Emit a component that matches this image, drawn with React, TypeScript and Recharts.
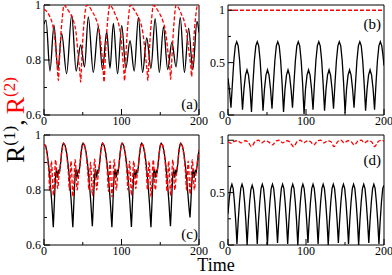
import React from 'react';
import { LineChart, Line, XAxis, YAxis, ReferenceArea } from 'recharts';

const FONT = '"Liberation Serif", "Times New Roman", serif';

// ---------- data ----------
const xTicks = [0, 50, 100, 150, 200];
const xLabels = [0, 100, 200];
const yTicksHigh = [0.6, 0.7, 0.8, 0.9, 1];
const yLabelsHigh = [0.6, 0.8, 1];
const yTicksLow = [0, 0.25, 0.5, 0.75, 1];
const yLabelsLow = [0, 0.5, 1];

type P = [number, number];

const aBlack: P[] = [[0,.93],[2.6,.945],[7.7,.76],[12.9,.927],[17.9,.765],[22.8,.897],[29.2,.75],[35.7,.964],[41.5,.76],[47.3,.855],[52.3,.775],[57.2,.957],[63.6,.755],[70.1,.921],[75.5,.765],[80.9,.903],[85.2,.77],[89.5,.933],[94.9,.75],[100.3,.925],[105.6,.77],[111,.87],[116.4,.76],[121.8,.955],[127.2,.755],[132.6,.88],[138,.77],[143.4,.95],[148.8,.755],[154.2,.92],[159.6,.765],[165,.865],[170.4,.775],[175.8,.955],[181.2,.755],[186.6,.915],[192,.765],[197.4,.94],[200,.9]];

const aRed: P[] = [[0,.985],[4,.975],[8,.955],[11,.93],[13.5,.89],[15.5,.83],[17.5,.76],[18.5,.725],[19.5,.77],[21,.86],[23.5,.95],[25.8,1.0],
[29,.99],[33.5,.97],[37.8,.945],[41.3,.90],[44.3,.81],[46.3,.755],[47.3,.72],[48.3,.77],[50,.873],[52,.945],[55,1.0],
[58,.995],[62.5,.975],[67,.95],[71,.91],[74.5,.83],[76.5,.755],[77.5,.72],[78.5,.77],[80.2,.87],[82.2,.945],[85,1.0],
[88,.99],[92,.965],[96,.935],[99,.89],[101.5,.81],[103,.76],[104,.725],[105,.775],[106.7,.87],[108.7,.945],[111.5,1.0],
[114.5,.99],[119,.97],[123.5,.945],[127.5,.90],[130.8,.82],[133,.76],[134,.725],[135,.775],[136.7,.87],[138.7,.945],[141.3,1.0],
[144.5,.99],[149,.97],[153,.945],[157,.90],[160.3,.82],[162.5,.765],[163.5,.73],[164.5,.78],[166.2,.87],[168,.945],[170.5,1.0],
[173.5,.99],[177.5,.965],[181.5,.935],[184.5,.89],[187.5,.82],[189.5,.775],[190.5,.74],[191.5,.785],[193.2,.87],[195.2,.945],[198.5,1.0],[200,.997]];

const bBlack: P[] = [[0,.35],[1.9,.24],[3.8,.07],
[5.65,.30],[7.5,.52],[9.35,.66],[11.2,.70],[13.05,.66],[14.9,.52],[16.75,.30],[18.6,.05],[20.5,.25],[22.4,.38],[24.35,.43],[26.3,.38],[28.2,.25],
[30.1,.03],[31.95,.30],[33.8,.52],[35.65,.66],[37.5,.70],[39.35,.66],[41.2,.52],[43.05,.30],[44.9,.04],[46.8,.25],[48.7,.38],[50.65,.43],[52.6,.38],[54.5,.25],
[56.4,.06],[58.25,.30],[60.1,.52],[61.95,.66],[63.8,.70],[65.65,.66],[67.5,.52],[69.35,.30],[71.2,.03],[73.1,.25],[75,.38],[76.95,.43],[78.9,.38],[80.8,.25],
[82.7,.07],[84.55,.30],[86.4,.52],[88.25,.66],[90.1,.70],[91.95,.66],[93.8,.52],[95.65,.30],[97.5,.01],[99.4,.25],[101.3,.38],[103.25,.43],[105.2,.38],[107.1,.25],
[109,.05],[110.85,.30],[112.7,.52],[114.55,.66],[116.4,.70],[118.25,.66],[120.1,.52],[121.95,.30],[123.8,.04],[125.7,.25],[127.6,.38],[129.55,.43],[131.5,.38],[133.4,.25],
[135.3,.06],[137.15,.30],[139,.52],[140.85,.66],[142.7,.70],[144.55,.66],[146.4,.52],[148.25,.30],[150.1,.02],[152,.25],[153.9,.38],[155.85,.43],[157.8,.38],[159.7,.25],
[161.6,.07],[163.45,.30],[165.3,.52],[167.15,.66],[169,.70],[170.85,.66],[172.7,.52],[174.55,.30],[176.4,.04],[178.3,.25],[180.2,.38],[182.15,.43],[184.1,.38],[186,.25],
[187.9,.05],[189.75,.30],[191.6,.52],[193.45,.66],[195.3,.70],[197.15,.66],[199,.55],[200,.47]];

const bRed: P[] = [[0,1],[200,1]];

const cBlack: P[] = [[0,.965],[2,.962],[4,.935],[6,.89],[8,.83],[10,.755],[11.2,.70],[12,.665],[13,.73],[14,.80],[15,.855],[16.2,.875],[17.4,.845],[18.8,.87],[20,.865],[21.2,.89],[22.6,.935],[24,.963],
[25.2,.97],[27.2,.962],[29.2,.935],[31.2,.89],[33.2,.83],[35.2,.755],[36.4,.70],[37.2,.665],[38.2,.73],[39.2,.80],[40.2,.855],[41.4,.875],[42.6,.845],[44,.87],[45.2,.865],[46.4,.89],[47.8,.935],[49.2,.963],
[50.4,.97],[52.4,.962],[54.4,.935],[56.4,.89],[58.4,.83],[60.4,.755],[61.6,.70],[62.4,.668],[63.4,.73],[64.4,.80],[65.4,.855],[66.6,.875],[67.8,.845],[69.2,.87],[70.4,.865],[71.6,.89],[73,.935],[74.4,.963],
[75.6,.97],[77.6,.962],[79.6,.935],[81.6,.89],[83.6,.83],[85.6,.755],[86.8,.70],[87.6,.665],[88.6,.73],[89.6,.80],[90.6,.855],[91.8,.875],[93,.845],[94.4,.87],[95.6,.865],[96.8,.89],[98.2,.935],[99.6,.963],
[100.8,.97],[102.8,.962],[104.8,.935],[106.8,.89],[108.8,.83],[110.8,.755],[112,.70],[112.8,.666],[113.8,.73],[114.8,.80],[115.8,.855],[117,.875],[118.2,.845],[119.6,.87],[120.8,.865],[122,.89],[123.4,.935],[124.8,.963],
[126,.97],[128,.962],[130,.935],[132,.89],[134,.83],[136,.755],[137.2,.70],[138,.665],[139,.73],[140,.80],[141,.855],[142.2,.875],[143.4,.845],[144.8,.87],[146,.865],[147.2,.89],[148.6,.935],[150,.963],
[151.2,.97],[153.2,.962],[155.2,.935],[157.2,.89],[159.2,.83],[161.2,.755],[162.4,.70],[163.2,.668],[164.2,.73],[165.2,.80],[166.2,.855],[167.4,.875],[168.6,.845],[170,.87],[171.2,.865],[172.4,.89],[173.8,.935],[175.2,.963],
[176.4,.97],[178.4,.962],[180.4,.935],[182.4,.89],[184.4,.83],[186.4,.76],[187.6,.72],[188.4,.70],[189.4,.75],[190.4,.81],[191.4,.855],[192.6,.875],[193.8,.845],[195.2,.87],[196.4,.865],[197.6,.89],[199,.925],[200,.945]];

const cRed: P[] = [[0,.965],[2,.96],[4,.93],[6,.87],[7.6,.795],[9.6,.905],[12.2,.78],[15,.91],[17.6,.805],[19.6,.86],[21.4,.90],[23,.94],[24.3,.962],
[25.2,.97],[27.2,.96],[29.2,.93],[31.2,.87],[32.8,.80],[34.8,.905],[37.4,.775],[40.2,.91],[42.8,.80],[44.8,.86],[46.6,.90],[48.2,.94],[49.5,.962],
[50.4,.97],[52.4,.96],[54.4,.93],[56.4,.87],[58,.80],[60,.90],[62.6,.78],[65.4,.912],[68,.80],[70,.86],[71.8,.90],[73.4,.94],[74.7,.962],
[75.6,.97],[77.6,.96],[79.6,.93],[81.6,.87],[83.2,.795],[85.2,.905],[87.8,.775],[90.6,.91],[93.2,.80],[95.2,.86],[97,.90],[98.6,.94],[99.9,.962],
[100.8,.97],[102.8,.96],[104.8,.93],[106.8,.87],[108.4,.80],[110.4,.905],[113,.78],[115.8,.905],[118.4,.805],[120.4,.86],[122.2,.90],[123.8,.94],[125.1,.962],
[126,.97],[128,.96],[130,.93],[132,.87],[133.6,.80],[135.6,.905],[138.2,.775],[141,.91],[143.6,.80],[145.6,.86],[147.4,.90],[149,.94],[150.3,.962],
[151.2,.97],[153.2,.96],[155.2,.93],[157.2,.87],[158.8,.795],[160.8,.905],[163.4,.78],[166.2,.91],[168.8,.80],[170.8,.86],[172.6,.90],[174.2,.94],[175.5,.962],
[176.4,.97],[178.4,.96],[180.4,.93],[182.4,.87],[184,.80],[186,.905],[188.6,.785],[191.4,.91],[194,.80],[196,.86],[197.8,.90],[199.4,.935],[200,.945]];

const dBlack: P[] = [[0,.30],[1.6,.44],[3.3,.54],[5,.58],[6.6,.54],[8.25,.41],[9.9,.23],[11.5,.01],
[13.1,.23],[14.75,.41],[16.4,.54],[18,.58],[19.6,.54],[21.25,.41],[22.9,.23],[24.5,.0],
[26.1,.23],[27.75,.41],[29.4,.53],[31,.57],[32.6,.53],[34.25,.41],[35.9,.23],[37.5,.01],
[39.1,.23],[40.75,.41],[42.4,.54],[44,.58],[45.6,.54],[47.25,.41],[48.9,.23],[50.5,.0],
[52.1,.23],[53.75,.41],[55.4,.54],[57,.58],[58.6,.54],[60.25,.41],[61.9,.23],[63.5,.02],
[65.1,.23],[66.75,.41],[68.4,.54],[70,.58],[71.6,.54],[73.25,.41],[74.9,.23],[76.5,.01],
[78.1,.23],[79.75,.41],[81.4,.54],[83,.58],[84.6,.54],[86.25,.41],[87.9,.23],[89.5,.0],
[91.1,.23],[92.75,.41],[94.4,.54],[96,.58],[97.6,.54],[99.25,.41],[100.9,.23],[102.5,.02],
[104.1,.23],[105.75,.41],[107.4,.54],[109,.58],[110.6,.54],[112.25,.41],[113.9,.23],[115.5,.01],
[117.1,.23],[118.75,.41],[120.4,.54],[122,.58],[123.6,.54],[125.25,.41],[126.9,.23],[128.5,.0],
[130.1,.23],[131.75,.41],[133.4,.54],[135,.58],[136.6,.54],[138.25,.41],[139.9,.23],[141.5,.02],
[143.1,.23],[144.75,.41],[146.4,.54],[148,.58],[149.6,.54],[151.25,.41],[152.9,.23],[154.5,.01],
[156.1,.23],[157.75,.41],[159.4,.54],[161,.58],[162.6,.54],[164.25,.41],[165.9,.23],[167.5,.0],
[169.1,.23],[170.75,.41],[172.4,.54],[174,.58],[175.6,.54],[177.25,.41],[178.9,.23],[180.5,.02],
[182.1,.23],[183.75,.41],[185.4,.54],[187,.58],[188.6,.54],[190.25,.41],[191.9,.23],[193.5,.01],
[195.1,.23],[196.75,.41],[198.4,.54],[200,.57]];

const dRed: P[] = [[0,.985],[4,.97],[8,.99],[12,.995],[17,.975],[22,.995],[26,.98],[30,.94],[35,.99],[39,1.0],[43,.975],[48,.995],[52,.985],[57,.955],[62,.995],[66,1.0],[70,.975],[75,.995],[79,.985],[84,.94],[89,.99],[93,1.0],[97,.975],[102,.995],[106,.985],[110,.955],[115,.995],[119,1.0],[123,.975],[128,.995],[132,.985],[136,.94],[141,.99],[145,1.0],[149,.975],[154,.995],[158,.985],[162,.955],[167,.995],[171,1.0],[175,.975],[180,.995],[184,.985],[188,.94],[193,.99],[197,1.0],[200,.99]];

// ---------- helpers ----------
const rows = (a: P[]) => a.map(([t, v]) => ({ t, v }));

const makeXTick = (labels: number[]) => (props: any) => {
  const { x, y, payload } = props;
  const major = labels.includes(payload.value);
  return (
    <g>
      <line x1={x} x2={x} y1={y} y2={y - (major ? 6 : 3)} stroke="#000" strokeWidth={1} />
      {major && (
        <text x={x} y={y + 10} textAnchor="middle" fontSize={12} fontFamily={FONT} fill="#000">
          {String(payload.value)}
        </text>
      )}
    </g>
  );
};

const makeYTick = (labels: number[]) => (props: any) => {
  const { x, y, payload } = props;
  const major = labels.includes(payload.value);
  return (
    <g>
      <line x1={x} x2={x + (major ? 6 : 3)} y1={y} y2={y} stroke="#000" strokeWidth={1} />
      {major && (
        <text x={x - 3} y={y + 4} textAnchor="end" fontSize={12} fontFamily={FONT} fill="#000">
          {String(payload.value)}
        </text>
      )}
    </g>
  );
};

type PanelProps = {
  left: number;
  top: number;
  width: number;
  right: number;
  domain: [number, number];
  yTicks: number[];
  yLabels: number[];
  black: P[];
  red: P[];
  blackCurve: 'linear' | 'monotone';
};

function Panel({ left, top, width, right, domain, yTicks, yLabels, black, red, blackCurve }: PanelProps) {
  return (
    <div style={{ position: 'absolute', left, top: top - 5 }}>
      <LineChart width={width} height={135} margin={{ top: 10, right, bottom: 0, left: 0 }}>
        <XAxis
          dataKey="t"
          type="number"
          domain={[0, 200]}
          ticks={xTicks}
          interval={0}
          height={15}
          axisLine={false}
          tickLine={false}
          tickSize={0}
          tickMargin={0}
          tick={makeXTick(xLabels)}
          allowDataOverflow
        />
        <YAxis
          type="number"
          domain={domain}
          ticks={yTicks}
          interval={0}
          width={44}
          axisLine={false}
          tickLine={false}
          tickSize={0}
          tickMargin={0}
          tick={makeYTick(yLabels)}
          allowDataOverflow
        />
        <ReferenceArea x1={0} x2={200} y1={domain[0]} y2={domain[1]} fill="none" stroke="#000" strokeWidth={1} />
        <Line
          data={rows(black)}
          dataKey="v"
          type={blackCurve}
          stroke="#000"
          strokeWidth={1.3}
          dot={false}
          isAnimationActive={false}
        />
        <Line
          data={rows(red)}
          dataKey="v"
          type="monotone"
          stroke="#ff0000"
          strokeWidth={1.3}
          strokeDasharray="4 2"
          dot={false}
          isAnimationActive={false}
        />
      </LineChart>
    </div>
  );
}

export default function App() {
  return (
    <div style={{ position: 'absolute', left: 0, top: 0, width: 392, height: 275, background: '#fff', overflow: 'hidden' }}>
      <Panel left={0} top={0} width={210} right={11} domain={[0.6, 1]} yTicks={yTicksHigh} yLabels={yLabelsHigh} black={aBlack} red={aRed} blackCurve="monotone" />
      <Panel left={184} top={0} width={208} right={8} domain={[0, 1.05]} yTicks={yTicksLow} yLabels={yLabelsLow} black={bBlack} red={bRed} blackCurve="linear" />
      <Panel left={0} top={130} width={210} right={11} domain={[0.6, 1]} yTicks={yTicksHigh} yLabels={yLabelsHigh} black={cBlack} red={cRed} blackCurve="linear" />
      <Panel left={184} top={130} width={208} right={8} domain={[0, 1.05]} yTicks={yTicksLow} yLabels={yLabelsLow} black={dBlack} red={dRed} blackCurve="linear" />
      <svg width={392} height={275} style={{ position: 'absolute', left: 0, top: 0, pointerEvents: 'none' }}>
        <g fontFamily={FONT} fontSize={15} fill="#000">
          <text x={198} y={109} textAnchor="end">(a)</text>
          <text x={381} y={29} textAnchor="end">(b)</text>
          <text x={198} y={239} textAnchor="end">(c)</text>
          <text x={381} y={165} textAnchor="end">(d)</text>
        </g>
        <text x={216} y={271} textAnchor="middle" fontFamily={FONT} fontSize={18} fill="#000">Time</text>
        <text transform="translate(24,163) rotate(-90)" fontFamily={FONT} fontSize={26}>
          <tspan fill="#000">R</tspan>
          <tspan fill="#000" fontSize={17} dy={-9}>(1)</tspan>
          <tspan fill="#000" dy={9}>,</tspan>
          <tspan fill="#ff0000" dx={5}>R</tspan>
          <tspan fill="#ff0000" fontSize={17} dy={-9}>(2)</tspan>
        </text>
      </svg>
    </div>
  );
}
